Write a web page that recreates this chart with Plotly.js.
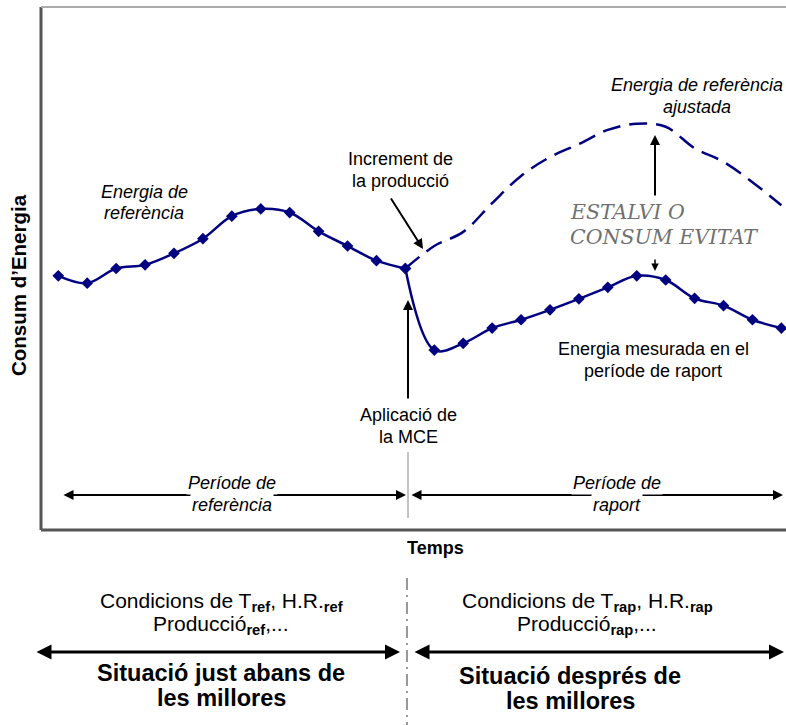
<!DOCTYPE html>
<html><head><meta charset="utf-8">
<script src="https://cdn.plot.ly/plotly-3.0.1.min.js"></script>
<style>body{margin:0;background:#fff}#chart{width:786px;height:725px}</style>
</head><body><div id="chart"></div>
<script>
// ---- data (arbitrary energy units, time index) ----
const refTime = [0,1,2,3,4,5,6,7,8,9,10,11,12];
const refEnergy = [48.6,47.2,50.0,50.7,52.9,55.7,60.0,61.4,60.7,57.1,54.3,51.5,50.0];
const repTime = [12,13,14,15,16,17,18,19,20,21,22,23,24,25];
const measuredEnergy = [50.0,34.4,35.7,38.6,40.2,42.1,44.2,46.4,48.6,47.8,44.3,42.9,40.2,38.6];
const adjustedEnergy = [50.0,54.3,57.0,62.5,67.7,71.3,73.8,76.5,77.7,77.1,73.0,70.4,66.5,62.1];
const yTitle = "Consum d’Energia";
const xTitle = "Temps";

// ---- layout helpers (pixel -> paper) ----
const W = 786, H = 725, L = 41, T = 7, B = 530;
const PW = W - L, PH = B - T;
const X = px => (px - L) / PW;
const Y = py => (B - py) / PH;

const NAVY = '#000080';
const SANS = '"Liberation Sans", Arial, sans-serif';
const fontN = (s, c) => ({family: SANS, size: s, color: c || '#000'});

function txt(text, px, py, size, opts) {
  return Object.assign({text: text, xref: 'paper', yref: 'paper', x: X(px), y: Y(py),
    showarrow: false, xanchor: 'center', yanchor: 'middle', font: fontN(size)}, opts || {});
}
function lines(arr, px, pys, size, opts) {
  return arr.map((t, i) => txt(t, px, pys[i], size, opts));
}
function arrow(tailX, tailY, tipX, tipY, w, opts) {
  return Object.assign({text: '', xref: 'paper', yref: 'paper', x: X(tipX), y: Y(tipY),
    ax: tailX - tipX, ay: tailY - tipY, showarrow: true, arrowhead: 2, arrowsize: 1,
    arrowwidth: w, arrowcolor: '#000', standoff: 0, startstandoff: 0}, opts || {});
}

const traces = [
  {x: refTime, y: refEnergy, type: 'scatter', mode: 'lines+markers',
   line: {color: NAVY, width: 2.5, shape: 'spline', smoothing: 1},
   marker: {symbol: 'diamond', size: 9, color: NAVY}},
  {x: repTime, y: adjustedEnergy, type: 'scatter', mode: 'lines',
   line: {color: NAVY, width: 2.5, shape: 'spline', smoothing: 1, dash: '18px,9px'}},
  {x: repTime, y: measuredEnergy, type: 'scatter', mode: 'lines+markers',
   line: {color: NAVY, width: 2.5, shape: 'spline', smoothing: 1},
   marker: {symbol: 'diamond', size: 9, color: NAVY}}
];

const estalviFont = {family: 'DejaVu Serif, serif', size: 20.5, color: '#707070', style: 'italic'};
const whiteBg = {bgcolor: '#fff', borderpad: 1};

const annotations = [].concat(
  // in-plot labels
  lines(['<i>Energia de</i>', '<i>referència</i>'], 144, [192, 213], 18),
  lines(['Increment de', 'la producció'], 400, [159, 181], 18),
  lines(['<i>Energia de referència</i>', '<i>ajustada</i>'], 697, [85, 107], 18),
  lines(['ESTALVI O', 'CONSUM EVITAT'], 568, [212, 237], 20.5, {xanchor: 'left', font: estalviFont}),
  lines(['Energia mesurada en el', 'període de raport'], 653, [349, 371], 18),
  lines(['Aplicació de', 'la MCE'], 408, [415, 437], 18),
  [
    arrow(390, 197, 423, 249, 2),
    arrow(408, 400, 408, 300, 2),
    arrow(655, 197, 655, 135, 2),
    arrow(655, 258, 655, 271, 1.5),
    arrow(62, 495, 406, 495, 2, {arrowside: 'end+start'}),
    arrow(410, 495, 783, 495, 2, {arrowside: 'end+start'})
  ],
  lines(['<i>Període de</i>', '<i>referència</i>'], 232, [483, 505], 18, whiteBg),
  lines(['<i>Període de</i>', '<i>raport</i>'], 617, [483, 505], 18, whiteBg),
  // axis titles
  [
    txt('<b>' + xTitle + '</b>', 435, 548, 18),
    txt('<b>' + yTitle + '</b>', 19, 285, 20.5, {textangle: -90})
  ],
  // bottom situation block
  lines(['Condicions de T<sub><b>ref</b></sub>, H.R.<sub><b>ref</b></sub>', 'Producció<sub><b>ref</b></sub>,...'], 221, [602, 625], 21),
  lines(['Condicions de T<sub><b>rap</b></sub>, H.R.<sub><b>rap</b></sub>', 'Producció<sub><b>rap</b></sub>,...'], 587, [602, 625], 21),
  [
    arrow(35, 652, 400, 652, 3, {arrowside: 'end+start'}),
    arrow(413, 652, 784, 652, 3, {arrowside: 'end+start'})
  ],
  lines(['<b>Situació just abans de</b>', '<b>les millores</b>'], 221, [673, 698], 23.5),
  lines(['<b>Situació després de</b>', '<b>les millores</b>'], 570, [676, 701], 23.5)
);

const shapes = [
  {type: 'line', xref: 'paper', yref: 'paper', x0: 0, x1: 0, y0: 0, y1: 1, line: {color: '#555', width: 3}},
  {type: 'line', xref: 'paper', yref: 'paper', x0: 0, x1: 1, y0: 1, y1: 1, line: {color: '#aaa', width: 2}},
  {type: 'line', xref: 'paper', yref: 'paper', x0: 0, x1: 1, y0: 0, y1: 0, line: {color: '#555', width: 3}},
  {type: 'line', xref: 'paper', yref: 'paper', x0: X(408), x1: X(408), y0: Y(452), y1: Y(518), line: {color: '#888', width: 1}},
  {type: 'line', xref: 'paper', yref: 'paper', x0: X(407), x1: X(407), y0: Y(578), y1: Y(725), line: {color: '#333', width: 1, dash: '12px,5px,2px,5px'}}
];

const layout = {
  width: W, height: H,
  margin: {l: L, r: 0, t: T, b: H - B, pad: 0},
  paper_bgcolor: '#fff', plot_bgcolor: '#fff',
  showlegend: false,
  xaxis: {range: [-0.598, 25.16], visible: false, fixedrange: true},
  yaxis: {range: [0, 100], visible: false, fixedrange: true},
  annotations: annotations,
  shapes: shapes,
  font: {family: SANS}
};

Plotly.newPlot('chart', traces, layout, {staticPlot: true, displayModeBar: false});
</script>
</body></html>
